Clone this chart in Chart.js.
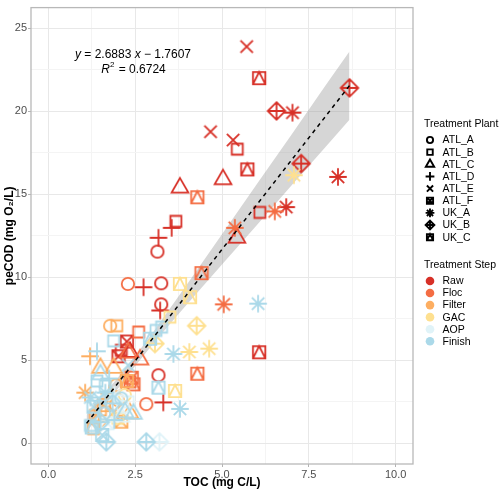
<!DOCTYPE html>
<html><head><meta charset="utf-8">
<script src="https://cdn.jsdelivr.net/npm/chart.js@4.4.0/dist/chart.umd.min.js"></script>
<style>html,body{margin:0;padding:0;background:#fff}#wrap{width:500px;height:492px;position:relative}</style>
</head><body><div id="wrap"><canvas id="c" width="500" height="492"></canvas></div>
<script>
// ---------- data ----------
const stepNames = ['Raw','Floc','Filter','GAC','AOP','Finish'];
const stepColors = ['#D73027','#F46D43','#FDAE61','#FEE090','#E0F3F8','#ABD9E9'];
const plantNames = ['ATL_A','ATL_B','ATL_C','ATL_D','ATL_E','ATL_F','UK_A','UK_B','UK_C'];
const xTickLabels = [0, 2.5, 5, 7.5, 10];
const yTickLabels = [0, 5, 10, 15, 20, 25];
const xGrid = [0,1.25,2.5,3.75,5,6.25,7.5,8.75,10];
const yGrid = [0,2.5,5,7.5,10,12.5,15,17.5,20,22.5,25];

// [plant, TOC, peCOD]
const raw = [
 ['ATL_E',5.71,23.9],['ATL_E',4.67,18.77],['ATL_E',5.32,18.27],['ATL_B',5.44,17.72],
 ['UK_C',5.73,16.5],['ATL_C',5.03,15.9],['ATL_C',3.79,15.4],['ATL_B',3.67,13.37],
 ['ATL_D',3.55,12.98],['ATL_D',3.17,12.38],['ATL_A',3.14,11.55],['ATL_C',5.43,12.38],
 ['UK_C',6.07,22.0],['UK_B',6.57,20.02],['UK_A',7.03,19.92],['UK_B',8.67,21.41],
 ['UK_B',7.28,16.85],['UK_A',8.34,16.05],['ATL_B',6.09,13.91],['UK_A',6.85,14.23],
 ['UK_C',6.07,5.48],['ATL_D',2.74,9.4],['ATL_A',3.25,9.64],['ATL_A',3.25,8.37],
 ['ATL_D',3.22,8.0],['ATL_F',2.26,6.13],['ATL_F',2.02,5.24],['ATL_B',2.1,5.6],
 ['ATL_A',3.17,4.1],['ATL_D',3.31,2.46],['ATL_C',2.35,5.5]
];
const floc = [
 ['UK_C',4.29,14.82],['UK_A',5.37,12.98],['UK_A',6.52,13.97],['UK_C',4.41,10.25],
 ['UK_A',5.05,8.37],['ATL_A',2.29,9.6],['UK_C',4.29,4.19],['ATL_A',2.82,2.36],
 ['ATL_B',2.6,6.7],['ATL_C',2.64,5.04],['ATL_C',2.3,5.45],['ATL_F',2.4,3.95],
 ['UK_C',2.45,3.55],['ATL_B',2.35,3.7]
];
const filter = [
 ['ATL_A',1.78,7.08],['ATL_B',1.97,7.08],['ATL_D',1.2,5.24],['ATL_C',1.5,4.54],
 ['ATL_C',1.88,4.54],['UK_A',1.06,3.05],['ATL_B',1.3,0.88],['ATL_B',1.35,1.67],
 ['UK_C',2.26,3.75],['ATL_F',1.6,2.3],['ATL_A',2.0,2.6],['ATL_C',2.35,1.8],
 ['ATL_E',1.9,1.9],['ATL_B',1.5,2.0],['UK_B',1.45,1.3],['ATL_D',1.75,3.0],
 ['ATL_A',1.95,3.5],['ATL_F',2.1,1.3]
];
const gac = [
 ['UK_A',7.07,16.15],['UK_C',3.79,9.6],['UK_C',4.08,8.8],['UK_B',4.27,7.08],
 ['UK_A',4.06,5.5],['UK_A',4.63,5.7],['UK_C',3.65,3.15],['ATL_B',3.5,7.6],
 ['UK_B',3.07,6.0],['ATL_A',2.2,2.9],['ATL_B',2.0,1.5]
];
const aop = [
 ['UK_B',3.2,0.08],['ATL_B',2.3,2.5],['ATL_A',2.15,2.2],['UK_A',1.9,2.9],
 ['ATL_C',2.1,1.6],['ATL_F',1.7,1.2]
];
const finish = [
 ['UK_A',6.04,8.41],['UK_A',3.6,5.38],['UK_C',3.17,3.35],['UK_A',3.79,2.07],
 ['UK_B',1.67,0.08],['UK_B',2.82,0.08],['ATL_B',1.88,6.17],['ATL_D',1.4,5.54],
 ['UK_A',1.21,2.76],['ATL_B',1.4,3.75],['ATL_C',1.5,4.15],['UK_B',1.5,1.27],
 ['ATL_B',1.21,1.07],['UK_A',1.64,3.05],['ATL_B',1.64,3.45],['ATL_A',2.1,2.7],
 ['ATL_C',2.21,1.86],['ATL_C',2.45,1.77],['ATL_F',1.3,2.2],['ATL_B',3.26,7.0],
 ['UK_C',2.93,6.3],['ATL_B',3.1,6.8],['ATL_E',2.3,4.7],['UK_B',1.85,2.4],
 ['ATL_D',1.9,1.4],['ATL_A',1.6,1.8],['ATL_E',1.45,2.7],['ATL_F',1.55,0.5],
 ['UK_C',1.25,0.95],['ATL_D',1.75,3.9]
];
const stepData = [raw, floc, filter, gac, aop, finish];

// regression line and its confidence band
const fitX = [1.1, 8.67];
const fitY = [1.197, 21.547];
const bandX    = [1.1, 1.5, 2.0, 2.5, 3.0, 3.5, 4.0, 5.0, 6.0, 7.0, 8.0, 8.67];
const bandLow  = [0.68, 1.85, 3.29, 4.66, 5.95, 7.18, 8.39, 10.77, 13.14, 15.53, 17.89, 19.50];
const bandHigh = [1.72, 2.69, 3.95, 5.26, 6.65, 8.12, 9.59, 12.59, 15.60, 18.59, 21.61, 23.60];
const eqLine1 = ['y', ' = 2.6883 ', 'x', ' \u2212 1.7607'];
const eqLine2 = ['R', '2', ' = 0.6724'];

// ---------- symbols ----------
function drawShape(g, shape, R) {
  const s2 = Math.SQRT2 * R, sq = 0.886 * R;
  g.beginPath();
  switch (shape) {
    case 'ATL_A': g.arc(0, 0, R, 0, 2 * Math.PI); break;
    case 'ATL_B': g.rect(-sq, -sq, 2 * sq, 2 * sq); break;
    case 'ATL_C': { const r = 1.5551 * R, xc = 1.3468 * R, yc = 0.7776 * R;
      g.moveTo(0, -r); g.lineTo(xc, yc); g.lineTo(-xc, yc); g.closePath(); } break;
    case 'ATL_D': g.moveTo(-s2, 0); g.lineTo(s2, 0); g.moveTo(0, -s2); g.lineTo(0, s2); break;
    case 'ATL_E': g.moveTo(-R, -R); g.lineTo(R, R); g.moveTo(-R, R); g.lineTo(R, -R); break;
    case 'ATL_F': g.rect(-R, -R, 2 * R, 2 * R); g.moveTo(-R, -R); g.lineTo(R, R); g.moveTo(-R, R); g.lineTo(R, -R); break;
    case 'UK_A': g.moveTo(-R, -R); g.lineTo(R, R); g.moveTo(-R, R); g.lineTo(R, -R);
      g.moveTo(-s2, 0); g.lineTo(s2, 0); g.moveTo(0, -s2); g.lineTo(0, s2); break;
    case 'UK_B': g.moveTo(0, -s2); g.lineTo(s2, 0); g.lineTo(0, s2); g.lineTo(-s2, 0); g.closePath();
      g.moveTo(-s2, 0); g.lineTo(s2, 0); g.moveTo(0, -s2); g.lineTo(0, s2); break;
    case 'UK_C': g.rect(-R, -R, 2 * R, 2 * R); g.moveTo(-R, R); g.lineTo(0, -R); g.lineTo(R, R); break;
  }
  g.stroke();
}
function makeIcon(shape, color, R, lw) {
  const pad = Math.ceil(R * 1.6 + lw);
  const cv = document.createElement('canvas');
  cv.width = cv.height = pad * 2;
  const g = cv.getContext('2d');
  g.translate(pad, pad);
  g.strokeStyle = color; g.lineWidth = lw; g.lineJoin = 'miter'; g.miterLimit = 4;
  drawShape(g, shape, R);
  return cv;
}
const icons = {};
plantNames.forEach(p => { icons[p] = stepColors.map(c => makeIcon(p, c, 6.2, 1.8)); });

// ---------- datasets ----------
const datasets = [];
datasets.push({ type: 'line', label: 'bandLow', data: bandX.map((x, i) => ({ x, y: bandLow[i] })),
  borderWidth: 0, pointRadius: 0, fill: false, order: 20 });
datasets.push({ type: 'line', label: 'bandHigh', data: bandX.map((x, i) => ({ x, y: bandHigh[i] })),
  borderWidth: 0, pointRadius: 0, fill: '-1', backgroundColor: 'rgba(153,153,153,0.4)', order: 19 });
stepData.forEach((arr, si) => {
  datasets.push({
    type: 'scatter', label: stepNames[si],
    data: arr.map(([p, x, y]) => ({ x, y, p })),
    pointStyle: ctx => (ctx.raw && icons[ctx.raw.p]) ? icons[ctx.raw.p][si] : 'circle',
    pointRadius: 6, pointHoverRadius: 6, borderColor: stepColors[si], backgroundColor: stepColors[si],
    order: 10 - si
  });
});
datasets.push({ type: 'line', label: 'fit', data: fitX.map((x, i) => ({ x, y: fitY[i] })),
  borderColor: '#000', borderWidth: 1.5, borderDash: [4, 4], pointRadius: 0, fill: false, order: 0 });

const FONT = "'Liberation Sans', Arial, Helvetica, sans-serif";

const decor = {
  id: 'decor',
  afterDraw(chart) {
    const g = chart.ctx, ca = chart.chartArea;
    g.save();
    // panel border
    g.strokeStyle = '#b8b8b8'; g.lineWidth = 1.3;
    g.strokeRect(ca.left, ca.top, ca.right - ca.left, ca.bottom - ca.top);
    // equation
    g.fillStyle = '#000'; g.textBaseline = 'middle';
    const fN = '12px ' + FONT, fI = 'italic 12px ' + FONT, fS = '8px ' + FONT;
    const parts1 = [[eqLine1[0], fI], [eqLine1[1], fN], [eqLine1[2], fI], [eqLine1[3], fN]];
    let w = 0; parts1.forEach(([t, f]) => { g.font = f; w += g.measureText(t).width; });
    let x = 133 - w / 2;
    parts1.forEach(([t, f]) => { g.font = f; g.textAlign = 'left'; g.fillText(t, x, 55); x += g.measureText(t).width; });
    const parts2 = [[eqLine2[0], fI, 0], [eqLine2[1], fS, -5], [eqLine2[2], fN, 0]];
    w = 0; parts2.forEach(([t, f]) => { g.font = f; w += g.measureText(t).width; });
    x = 133 - w / 2;
    parts2.forEach(([t, f, dy]) => { g.font = f; g.fillText(t, x, 70 + dy); x += g.measureText(t).width + (dy ? 1 : 0); });
    // legends
    g.textAlign = 'left';
    g.font = '10.5px ' + FONT; g.fillStyle = '#000';
    g.fillText('Treatment Plant', 424, 124);
    plantNames.forEach((p, i) => {
      const y = 140 + i * 12.15;
      g.save(); g.translate(430, y); g.strokeStyle = '#000'; g.lineWidth = 1.9; drawShape(g, p, 3.1); g.restore();
      g.font = '10.5px ' + FONT; g.fillStyle = '#000'; g.fillText(p, 442.5, y + 0.5);
    });
    g.font = '10.5px ' + FONT;
    g.fillText('Treatment Step', 424, 265);
    stepNames.forEach((s, i) => {
      const y = 281 + i * 12.05;
      g.beginPath(); g.arc(430, y, 4.3, 0, 2 * Math.PI); g.fillStyle = stepColors[i]; g.fill();
      g.font = '10.5px ' + FONT; g.fillStyle = '#000'; g.fillText(s, 442.5, y + 0.5);
    });
    g.restore();
  }
};

new Chart(document.getElementById('c'), {
  type: 'scatter',
  data: { datasets },
  options: {
    responsive: false, animation: false, devicePixelRatio: 1,
    layout: { padding: { top: 2, right: 87, left: 0, bottom: 0 } },
    plugins: { legend: { display: false }, tooltip: { enabled: false }, filler: { propagate: false } },
    scales: {
      x: {
        type: 'linear', min: -0.5, max: 10.5,
        afterBuildTicks: s => { s.ticks = xGrid.map(v => ({ value: v })); },
        afterFit: s => { s.height = 28; },
        ticks: { autoSkip: false, maxRotation: 0, padding: 1, color: '#4d4d4d',
          font: { family: FONT, size: 11 },
          callback: v => xTickLabels.includes(v) ? v.toFixed(1) : '' },
        grid: { color: c => xTickLabels.includes(c.tick && c.tick.value) ? '#e8e8e8' : '#f4f4f4',
          tickColor: c => xTickLabels.includes(c.tick && c.tick.value) ? '#b3b3b3' : 'rgba(0,0,0,0)',
          tickLength: 3, lineWidth: 1 },
        border: { display: false },
        title: { display: true, text: 'TOC (mg C/L)', color: '#000', font: { family: FONT, size: 12, weight: 'bold' },
          padding: { top: 0, bottom: 2 } }
      },
      y: {
        type: 'linear', min: -1.25, max: 26.25,
        afterBuildTicks: s => { s.ticks = yGrid.map(v => ({ value: v })); },
        afterFit: s => { s.width = 31; },
        ticks: { autoSkip: false, padding: 1, color: '#4d4d4d', font: { family: FONT, size: 11 },
          callback: v => yTickLabels.includes(v) ? String(v) : '' },
        grid: { color: c => yTickLabels.includes(c.tick && c.tick.value) ? '#e8e8e8' : '#f4f4f4',
          tickColor: c => yTickLabels.includes(c.tick && c.tick.value) ? '#b3b3b3' : 'rgba(0,0,0,0)',
          tickLength: 3, lineWidth: 1 },
        border: { display: false },
        title: { display: true, text: 'peCOD (mg O\u2082/L)', color: '#000', font: { family: FONT, size: 12, weight: 'bold' },
          padding: { top: 2, bottom: 0 } }
      }
    }
  },
  plugins: [decor]
});
</script>
</body></html>
